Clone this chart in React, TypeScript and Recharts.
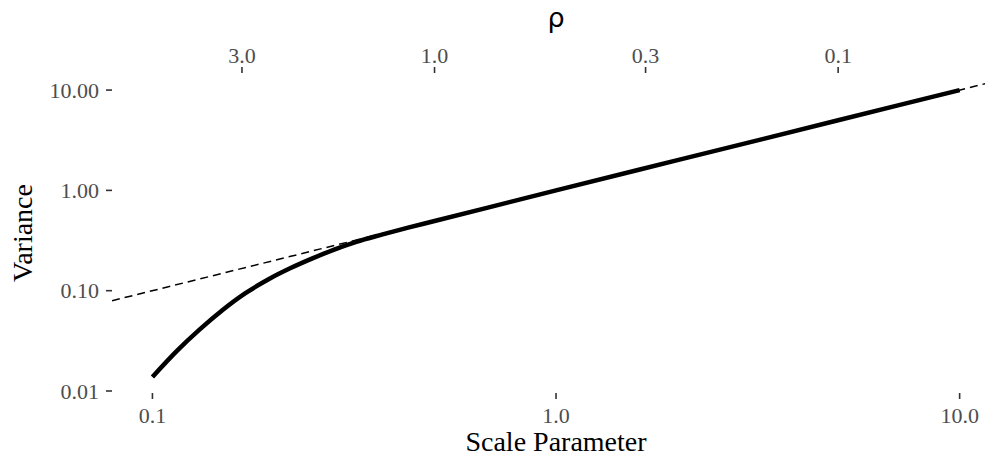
import React from 'react'
import { ComposedChart, Line, XAxis, YAxis, Label } from 'recharts'

// values (log-log)
const scaleParam = [0.1, 0.115, 0.131, 0.149, 0.17, 0.195, 0.22, 0.25, 0.28, 0.32, 0.37, 0.43, 0.5, 1, 2, 5, 10]
const variance = [0.0138, 0.0251, 0.0411, 0.0638, 0.0944, 0.1315, 0.168, 0.211, 0.254, 0.307, 0.362, 0.425, 0.495, 1, 2, 5, 10]

const xTicks = [0.1, 1, 10]
const yTicks = [0.01, 0.1, 1, 10]
const rhoTicks = [3.0, 1.0, 0.3, 0.1]
const identityEnds = [0.0794, 12.59]

const X_DOMAIN = [0.0794, 12.59]
const Y_DOMAIN = [0.00955, 14.8]

const curveData = scaleParam.map((s, i) => ({ s, v: variance[i] }))
const identityData = identityEnds.map(s => ({ s, v: s }))
// rho = 1 / (2 * scale)
const rhoPositions = rhoTicks.map(r => 1 / (2 * r))

const serif = '"Liberation Serif", "Times New Roman", serif'
const tickStyle = { fill: '#4D4D4D', fontSize: 22, fontFamily: serif }
const tickLineStyle = { stroke: '#333333', strokeWidth: 1.6 }

export default function App() {
  return (
    <div
      style={{
        position: 'absolute',
        left: 0,
        top: 0,
        width: 985,
        height: 458,
        overflow: 'hidden',
        background: '#fff',
      }}
    >
      <ComposedChart
        width={1000}
        height={458}
        margin={{ top: 43, right: 0, bottom: 35, left: 0 }}
        style={{ fontFamily: serif }}
      >
        <XAxis
          xAxisId="bottom"
          dataKey="s"
          type="number"
          scale="log"
          domain={X_DOMAIN}
          allowDataOverflow
          ticks={xTicks}
          tickFormatter={(v: number) => v.toFixed(1)}
          axisLine={false}
          tickLine={tickLineStyle}
          tickSize={6}
          tickMargin={8}
          tick={tickStyle}
          height={30}
          interval={0}
        >
          <Label
            value="Scale Parameter"
            position="bottom"
            offset={8}
            style={{ fill: '#000', fontSize: 28, fontFamily: serif }}
          />
        </XAxis>
        <XAxis
          xAxisId="top"
          orientation="top"
          dataKey="s"
          type="number"
          scale="log"
          domain={X_DOMAIN}
          allowDataOverflow
          ticks={rhoPositions}
          tickFormatter={(_v: number, i: number) => rhoTicks[i].toFixed(1)}
          axisLine={false}
          tickLine={tickLineStyle}
          tickSize={6}
          tickMargin={4}
          tick={tickStyle}
          height={30}
          interval={0}
        >
          <Label
            value="ρ"
            position="top"
            offset={16}
            style={{ fill: '#000', fontSize: 27, fontFamily: '"DejaVu Sans", sans-serif' }}
          />
        </XAxis>
        <YAxis
          dataKey="v"
          type="number"
          scale="log"
          domain={Y_DOMAIN}
          allowDataOverflow
          ticks={yTicks}
          tickFormatter={(v: number) => v.toFixed(2)}
          axisLine={false}
          tickLine={tickLineStyle}
          tickSize={6}
          tickMargin={7}
          tick={tickStyle}
          width={112}
          interval={0}
        >
          <Label
            value="Variance"
            angle={-90}
            position="insideLeft"
            offset={22}
            style={{ fill: '#000', fontSize: 28, fontFamily: serif, textAnchor: 'middle' }}
          />
        </YAxis>
        <Line
          xAxisId="top"
          data={identityData}
          dataKey="v"
          stroke="#000"
          strokeWidth={1.5}
          strokeDasharray="8 5"
          dot={false}
          activeDot={false}
          isAnimationActive={false}
        />
        <Line
          xAxisId="bottom"
          data={curveData}
          dataKey="v"
          type="monotone"
          stroke="#000"
          strokeWidth={4.5}
          dot={false}
          activeDot={false}
          isAnimationActive={false}
        />
      </ComposedChart>
    </div>
  )
}
